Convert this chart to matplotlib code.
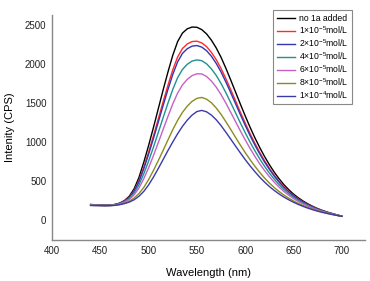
import matplotlib
matplotlib.use("Agg")
import matplotlib.pyplot as plt

plt.rcParams["font.family"] = ["Liberation Sans", "DejaVu Sans"]
plt.rcParams["mathtext.fontset"] = "custom"
plt.rcParams["mathtext.rm"] = "Liberation Sans"

wavelength = list(range(440, 701, 5))

no_1a = [205, 201, 197, 195, 197, 205, 222, 255, 310, 405, 550, 745, 960, 1190, 1430,
         1670, 1900, 2115, 2290, 2400, 2455, 2478, 2475, 2445, 2390, 2310, 2210, 2090,
         1950, 1800, 1645, 1490, 1340, 1195, 1060, 935, 820, 715, 620, 535, 460, 395,
         338, 290, 248, 212, 180, 152, 128, 107, 89, 71, 55]
c_1e5 = [203, 199, 196, 194, 196, 203, 219, 249, 298, 382, 510, 682, 875, 1083, 1300,
         1519, 1730, 1929, 2093, 2202, 2261, 2292, 2297, 2275, 2227, 2153, 2060, 1947,
         1816, 1676, 1532, 1387, 1248, 1114, 989, 873, 766, 669, 581, 503, 434, 374,
         321, 276, 237, 203, 173, 147, 124, 104, 87, 70, 55]
c_2e5 = [202, 199, 195, 193, 195, 202, 218, 247, 294, 375, 497, 662, 848, 1049, 1259,
         1471, 1676, 1870, 2031, 2139, 2200, 2233, 2241, 2221, 2175, 2104, 2012, 1902,
         1774, 1637, 1496, 1355, 1219, 1088, 966, 853, 749, 655, 569, 493, 425, 367,
         315, 272, 233, 200, 171, 145, 123, 103, 86, 69, 55]
c_4e5 = [200, 197, 194, 192, 194, 200, 214, 240, 281, 351, 456, 598, 760, 938, 1126,
         1316, 1502, 1678, 1828, 1934, 2001, 2042, 2057, 2047, 2007, 1942, 1858, 1755,
         1636, 1509, 1379, 1249, 1124, 1004, 893, 789, 694, 607, 530, 460, 398, 345,
         298, 257, 222, 191, 163, 139, 118, 100, 84, 68, 54]
c_6e5 = [198, 195, 193, 191, 193, 198, 211, 234, 269, 328, 415, 535, 675, 830, 996,
         1165, 1332, 1492, 1631, 1736, 1807, 1856, 1879, 1877, 1844, 1786, 1708, 1612,
         1503, 1386, 1266, 1147, 1033, 923, 821, 726, 640, 561, 491, 428, 372, 324,
         280, 243, 211, 182, 156, 134, 114, 97, 82, 67, 54]
c_8e5 = [194, 192, 190, 189, 190, 195, 205, 222, 247, 287, 344, 423, 523, 640, 766,
         897, 1031, 1162, 1282, 1384, 1464, 1526, 1564, 1576, 1554, 1508, 1441, 1359,
         1265, 1166, 1065, 965, 870, 779, 695, 616, 544, 480, 423, 371, 326, 286,
         250, 219, 191, 166, 144, 124, 107, 92, 78, 65, 53]
c_1e4 = [192, 190, 189, 188, 189, 193, 202, 216, 235, 265, 310, 372, 455, 555, 665,
         780, 895, 1005, 1110, 1205, 1285, 1350, 1395, 1410, 1392, 1350, 1290, 1215,
         1130, 1042, 953, 865, 780, 700, 625, 555, 492, 435, 385, 340, 300, 265,
         233, 205, 180, 157, 137, 119, 103, 89, 76, 64, 53]

series = [no_1a, c_1e5, c_2e5, c_4e5, c_6e5, c_8e5, c_1e4]
labels = ["no 1a added",
          r"1$\times$10$^{-5}$mol/L",
          r"2$\times$10$^{-5}$mol/L",
          r"4$\times$10$^{-5}$mol/L",
          r"6$\times$10$^{-5}$mol/L",
          r"8$\times$10$^{-5}$mol/L",
          r"1$\times$10$^{-4}$mol/L"]
colors = ["#000000", "#ff2a2a", "#3434b4", "#1f9191", "#c462c4", "#8c8c1e", "#3a3aaa"]

fig = plt.figure(figsize=(3.70, 2.81), dpi=100)
ax = fig.add_axes([0.1405, 0.146, 0.846, 0.80])

for vals, lab, col in zip(series, labels, colors):
    ax.plot(wavelength, vals, color=col, lw=1.0, label=lab)

ax.set_xlim(400, 724)
ax.set_ylim(-250, 2630)
ax.set_xticks([400, 450, 500, 550, 600, 650, 700])
ax.set_yticks([0, 500, 1000, 1500, 2000, 2500])

for s in ["top", "right"]:
    ax.spines[s].set_visible(False)
for s in ["left", "bottom"]:
    ax.spines[s].set_color("#888888")
    ax.spines[s].set_linewidth(1.0)
ax.tick_params(length=0, labelsize=7, pad=4, colors="#222222")

ax.set_xlabel("Wavelength (nm)", fontsize=8, labelpad=9)
ax.set_ylabel("Intenity (CPS)", fontsize=8, labelpad=7)

leg = ax.legend(loc="upper right", bbox_to_anchor=(0.958, 1.022), borderaxespad=0,
                fontsize=6.2, handlelength=2.2, handletextpad=0.4, labelspacing=0.15,
                borderpad=0.4, fancybox=False, framealpha=1)
leg.get_frame().set_edgecolor("#888888")
leg.get_frame().set_linewidth(0.8)

fig.savefig("out.png", dpi=100)
